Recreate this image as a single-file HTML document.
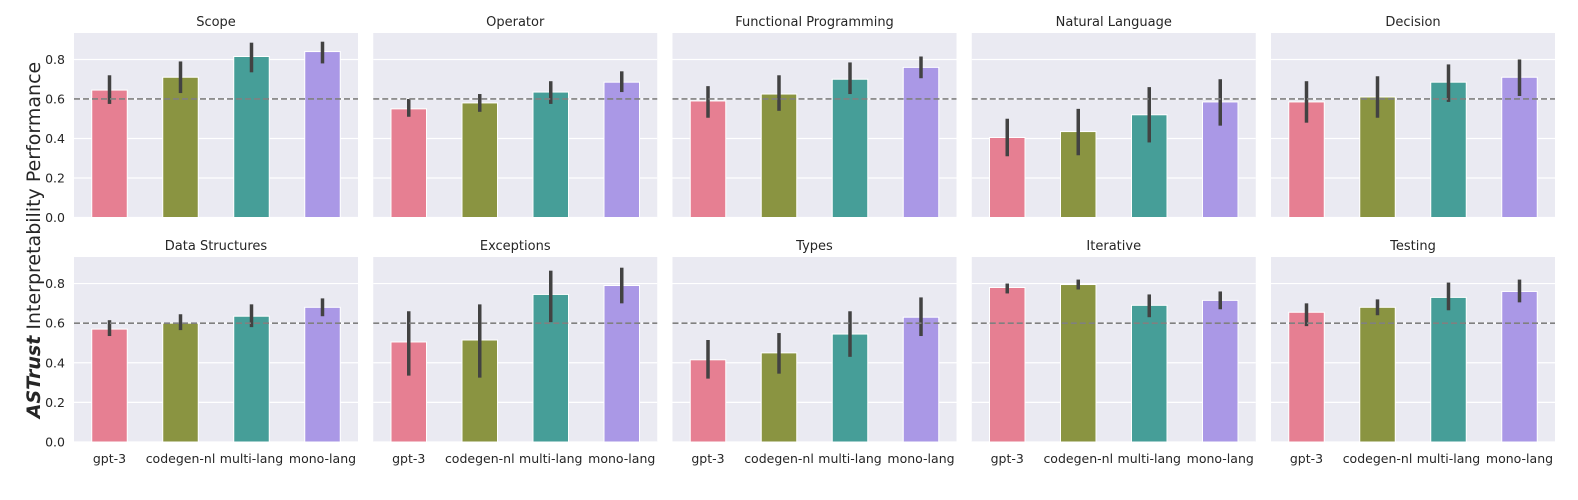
<!DOCTYPE html>
<html><head><meta charset="utf-8"><style>
body{margin:0;background:#fff;}
svg{display:block;font-family:"DejaVu Sans","Liberation Sans",sans-serif;}
</style></head><body>
<svg id="chart" width="1578" height="500" viewBox="0 0 1578 500" xmlns="http://www.w3.org/2000/svg">
<text transform="translate(40,240) rotate(-90)" text-anchor="middle" font-size="19" fill="#262626"><tspan font-weight="bold" font-style="italic">ASTrust</tspan> Interpretability Performance</text>
</svg>
<script>
const categories = ["gpt-3","codegen-nl","multi-lang","mono-lang"];
const panelTitles = ["Scope","Operator","Functional Programming","Natural Language","Decision","Data Structures","Exceptions","Types","Iterative","Testing"];
const means = [
 [0.645,0.71,0.815,0.84],
 [0.55,0.58,0.635,0.685],
 [0.59,0.625,0.70,0.76],
 [0.405,0.435,0.52,0.585],
 [0.585,0.61,0.685,0.71],
 [0.57,0.60,0.635,0.68],
 [0.505,0.515,0.745,0.79],
 [0.415,0.45,0.545,0.63],
 [0.78,0.795,0.69,0.715],
 [0.655,0.68,0.73,0.76]
];
const lows = [
 [0.575,0.63,0.735,0.78],
 [0.51,0.535,0.575,0.635],
 [0.505,0.54,0.625,0.705],
 [0.31,0.315,0.38,0.465],
 [0.48,0.505,0.585,0.615],
 [0.535,0.565,0.58,0.635],
 [0.335,0.325,0.605,0.70],
 [0.32,0.345,0.43,0.535],
 [0.75,0.77,0.63,0.67],
 [0.585,0.64,0.665,0.705]
];
const highs = [
 [0.72,0.79,0.885,0.89],
 [0.60,0.625,0.69,0.74],
 [0.665,0.72,0.785,0.815],
 [0.50,0.55,0.66,0.70],
 [0.69,0.715,0.775,0.80],
 [0.615,0.645,0.695,0.725],
 [0.66,0.695,0.865,0.88],
 [0.515,0.55,0.66,0.73],
 [0.80,0.82,0.745,0.76],
 [0.70,0.72,0.805,0.82]
];
const yTicks = [0,0.2,0.4,0.6,0.8];
const yTickLabels = ["0.0","0.2","0.4","0.6","0.8"];
const refLine = 0.6;
const colors = ["#e67f92","#8a9441","#469e98","#aa98e6"];

const svg = document.getElementById('chart');
const NS = "http://www.w3.org/2000/svg";
function mk(tag, attrs, parent){const e=document.createElementNS(NS,tag);for(const k in attrs)e.setAttribute(k,attrs[k]);(parent||svg).appendChild(e);return e;}
const PW=284, PX0=74, PSTEP=299.25, YMAX=0.934;
const rows=[{top:33,base:217.5},{top:257,base:442}];
for(let p=0;p<10;p++){
  const r=rows[Math.floor(p/5)], px=PX0+(p%5)*PSTEP;
  const scale=(r.base-r.top)/YMAX;
  const y=v=>r.base-v*scale;
  const x=i=>px+(i+0.5)*PW/4;
  const g=mk('g',{});
  
  
  const bg=mk('rect',{x:px,y:r.top,width:PW,height:r.base-r.top,fill:'#eaeaf2'},g);
  
  
  yTicks.forEach((t,i)=>{
    const gl=mk('line',{x1:px,x2:px+PW,y1:y(t),y2:y(t),stroke:'#fff','stroke-width':1.2},g);
    
    
    if(p%5===0){
      const tl=mk('text',{x:px-9,y:y(t)+4.5,'text-anchor':'end','font-size':12.5,fill:'#262626'},g);
      tl.textContent=yTickLabels[i];
      
      
    }
  });
  const tt=mk('text',{x:px+PW/2,y:r.top-7,'text-anchor':'middle','font-size':13,fill:'#262626'},g);
  tt.textContent=panelTitles[p];
  
  
  categories.forEach((c,i)=>{
    const bw=PW/8;
    const b=mk('rect',{x:x(i)-bw/2,y:y(means[p][i]),width:bw,height:r.base-y(means[p][i]),fill:colors[i],stroke:'#fff','stroke-width':1},g);
    
    
    const eb=mk('line',{x1:x(i),x2:x(i),y1:y(lows[p][i]),y2:y(highs[p][i]),stroke:'#424242','stroke-width':3.5},g);
    
    
    if(p>=5){
      const xl=mk('text',{x:x(i),y:r.base+21,'text-anchor':'middle','font-size':12.5,fill:'#262626'},g);
      xl.textContent=c;
      
      
    }
  });
  const rl=mk('line',{x1:px,x2:px+PW,y1:y(refLine),y2:y(refLine),stroke:'#808080','stroke-width':1.6,'stroke-dasharray':'6,3'},g);
  
  
}
</script>
</body></html>
